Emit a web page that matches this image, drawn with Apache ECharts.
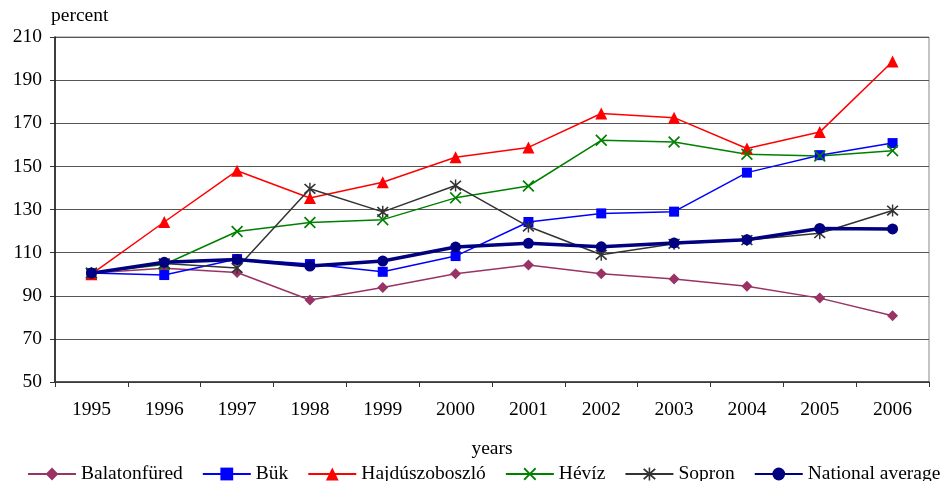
<!DOCTYPE html>
<html>
<head>
<meta charset="utf-8">
<script src="https://cdn.jsdelivr.net/npm/echarts@6/dist/echarts.min.js"></script>
<style>
  html, body { margin: 0; padding: 0; background: #fff; }
  #chart { width: 944px; height: 481px; }
</style>
</head>
<body>
<div id="chart"></div>
<script>
// Tourism index by town, 1995 = 100 (percent)
const years = ['1995', '1996', '1997', '1998', '1999', '2000', '2001', '2002', '2003', '2004', '2005', '2006'];
const balatonfured = [100.5, 102.7, 100.8, 88.0, 93.8, 100.2, 104.3, 100.2, 97.8, 94.4, 88.9, 80.7];
const buk = [100.5, 99.6, 107.0, 104.7, 101.1, 108.4, 124.2, 128.2, 129.0, 147.1, 155.2, 160.8];
const hajduszoboszlo = [100.0, 124.2, 148.0, 135.3, 142.6, 154.2, 158.8, 174.5, 172.6, 158.3, 165.9, 198.6];
const heviz = [100.5, 104.5, 119.8, 124.0, 125.3, 135.4, 140.9, 162.1, 161.3, 155.6, 154.8, 157.3];
const sopron = [100.5, 105.0, 102.9, 139.6, 128.9, 141.1, 122.1, 109.0, 114.1, 115.8, 119.0, 129.5];
const nationalAverage = [100.5, 105.5, 106.8, 103.8, 106.1, 112.6, 114.3, 112.7, 114.5, 116.0, 121.2, 121.0];

const yTicks = { min: 50, max: 210, interval: 20 };

const FONT = 'Liberation Serif';
const FS = 19.5;

// filled X and asterisk glyphs for the Hévíz and Sopron markers
const crossPath = 'path://M0,1L1,0L5,4L9,0L10,1L6,5L10,9L9,10L5,6L1,10L0,9L4,5Z';
const starPath = 'path://M0,1L1,0L5,4L9,0L10,1L6,5L10,9L9,10L5,6L1,10L0,9L4,5Z M4.4,-0.6H5.6V10.6H4.4Z';

function lineSeries(name, data, color, symbol, size, width) {
  return {
    name: name,
    type: 'line',
    data: data,
    symbol: symbol,
    symbolSize: size,
    showSymbol: true,
    lineStyle: { color: color, width: width },
    itemStyle: { color: color },
    emphasis: { disabled: true },
    animation: false
  };
}

const chart = echarts.init(document.getElementById('chart'), null, { renderer: 'canvas' });

chart.setOption({
  backgroundColor: '#fff',
  textStyle: { fontFamily: FONT, color: '#000' },
  grid: {
    left: 55, right: 15, top: 37, bottom: 99,
    show: true, borderColor: '#888', borderWidth: 1, backgroundColor: 'transparent'
  },
  legend: {
    left: 22,
    top: 459,
    width: 1000,
    itemWidth: 48,
    itemHeight: 16,
    itemGap: 19,
    textStyle: { fontFamily: FONT, fontSize: FS, color: '#000' },
    data: ['Balatonfüred', 'Bük', 'Hajdúszoboszló', 'Hévíz', 'Sopron', 'National average']
  },
  xAxis: {
    type: 'category',
    data: years,
    boundaryGap: true,
    name: 'years',
    nameLocation: 'middle',
    nameGap: 57,
    nameTextStyle: { fontFamily: FONT, fontSize: FS, color: '#000' },
    axisLine: { lineStyle: { color: '#333', width: 1.5 } },
    axisTick: { show: true, length: 5, lineStyle: { color: '#333' } },
    axisLabel: { margin: 18, fontFamily: FONT, fontSize: FS, color: '#000' },
    splitLine: { show: false }
  },
  yAxis: {
    type: 'value',
    min: yTicks.min,
    max: yTicks.max,
    interval: yTicks.interval,
    name: 'percent',
    nameLocation: 'end',
    nameGap: 11,
    nameTextStyle: { fontFamily: FONT, fontSize: FS, color: '#000', align: 'left', padding: [0, 0, 0, -4] },
    axisLine: { show: true, lineStyle: { color: '#111', width: 1.5 } },
    axisTick: { show: true, length: 5, lineStyle: { color: '#333' } },
    axisLabel: { margin: 13, fontFamily: FONT, fontSize: FS, color: '#000' },
    splitLine: { show: true, lineStyle: { color: '#555', width: 1 } }
  },
  series: [
    lineSeries('Balatonfüred', balatonfured, '#993366', 'diamond', 11, 1.5),
    lineSeries('Bük', buk, '#0000ff', 'rect', 10, 1.5),
    lineSeries('Hajdúszoboszló', hajduszoboszlo, '#ff0000', 'triangle', 12, 1.5),
    lineSeries('Hévíz', heviz, '#008000', crossPath, 12, 1.5),
    lineSeries('Sopron', sopron, '#333333', starPath, 12, 1.5),
    lineSeries('National average', nationalAverage, '#000080', 'circle', 11, 3.5)
  ]
});
</script>
</body>
</html>
